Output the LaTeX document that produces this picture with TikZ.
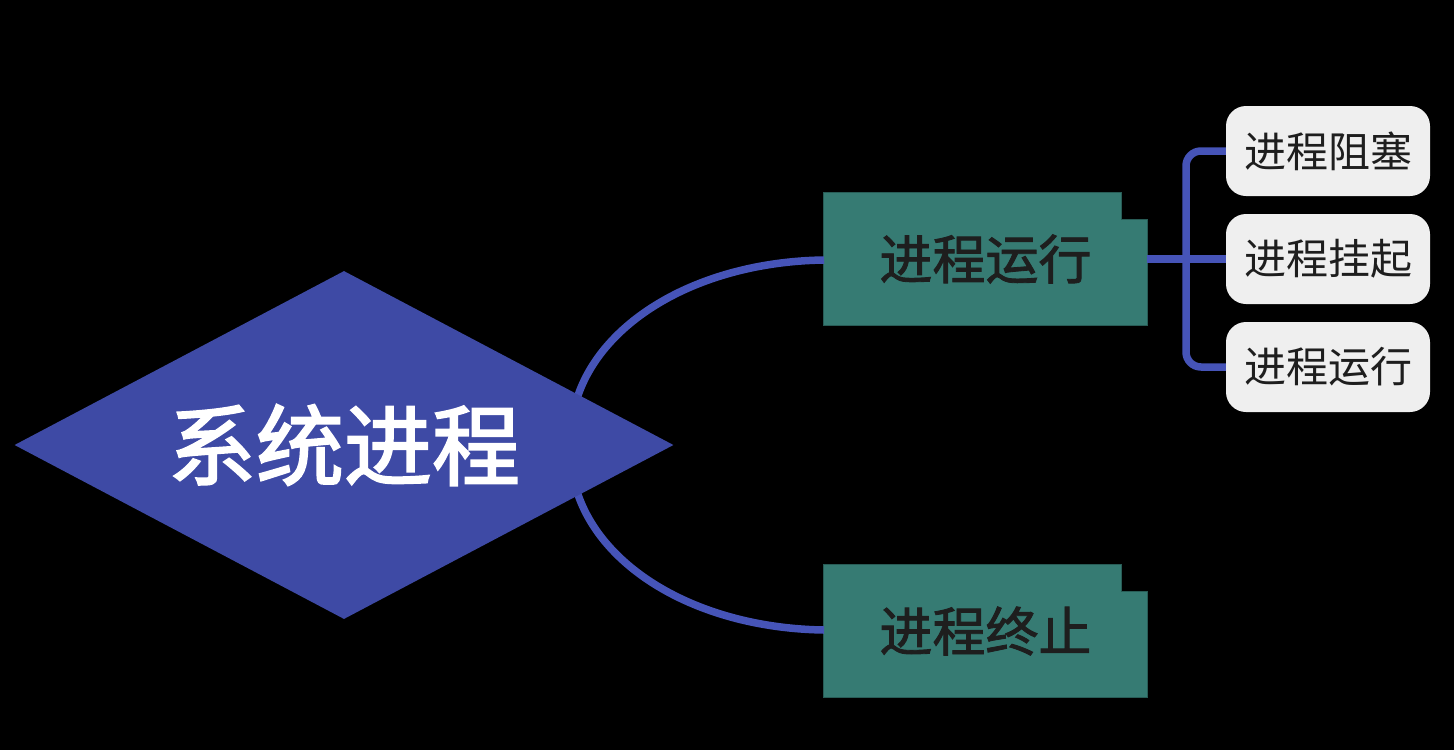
\documentclass[tikz,border=0pt]{standalone}
\usepackage{fontspec}
\newfontfamily\cjk{Noto Sans CJK SC}
\newfontfamily\cjkthick[FakeBold=2.2]{Noto Sans CJK SC}
\newfontfamily\cjkmid[FakeBold=1.6]{Noto Sans CJK SC}
\usetikzlibrary{shapes.geometric,positioning,calc,backgrounds}

\definecolor{diablue}{RGB}{62,74,165}
\definecolor{linkblue}{RGB}{70,84,184}
\definecolor{boxgreen}{RGB}{54,123,115}
\definecolor{boxedge}{RGB}{40,92,86}
\definecolor{leafgrey}{RGB}{239,239,239}
\definecolor{inkdark}{RGB}{30,30,30}

\tikzset{
  root/.style={diamond, shape aspect=1.89, fill=diablue, inner sep=0pt,
    minimum width=659pt, minimum height=348pt, text=white,
    font=\cjkthick\fontsize{88}{88}\selectfont},
  branch/.style={inner sep=0pt, minimum width=323pt, minimum height=132pt,
    text=inkdark, font=\cjkmid\fontsize{53}{53}\selectfont},
  leaf/.style={rounded corners=20pt, fill=leafgrey, inner sep=0pt,
    minimum width=204pt, minimum height=90pt, text=inkdark,
    font=\cjk\fontsize{42}{42}\selectfont},
  link/.style={draw=linkblue, line width=7.5pt},
}

\begin{document}
\begin{tikzpicture}[x=1pt, y=-1pt]
\def \notchx {26}
\def \notchy {27}
\def \barx {1186}

\useasboundingbox (0,0) rectangle (1454,750);

%curves from the root, drawn first so the diamond covers their ends
\coordinate (up) at (572,420);
\coordinate (down) at (572,470);
\draw[link] (up) .. controls (585,330) and (690,262) .. (824,260);
\draw[link] (down) .. controls (585,560) and (690,628) .. (824,630);

\node[root] (sys) at (344,445) {系统进程};

%branches
\node[branch] (run) at (985.5,259) {进程运行};
\node[branch] (stop) at (985.5,631) {进程终止};
\begin{scope}[on background layer]
\fill[black] (0,0) rectangle (1454,750);
\foreach \b in {run,stop}{
  \filldraw[fill=boxgreen, draw=boxedge, line width=0.8pt]
    (\b.south west) |- ($(\b.north east)+(-\notchx,0)$)
    |- ($(\b.north east)+(0,\notchy)$) -- (\b.south east) -- cycle;
}
\end{scope}

%leaves
\node[leaf] (block) at (1328,151) {进程阻塞};
\node[leaf] (hang) at (1328,259) {进程挂起};
\node[leaf] (again) at (1328,367) {进程运行};

\coordinate (bar) at (\barx,259);
\draw[link] (run.east) -- (hang.west);
\draw[link, rounded corners=15pt] (block.west) -| (bar) |- (again.west);

\end{tikzpicture}
\end{document}
